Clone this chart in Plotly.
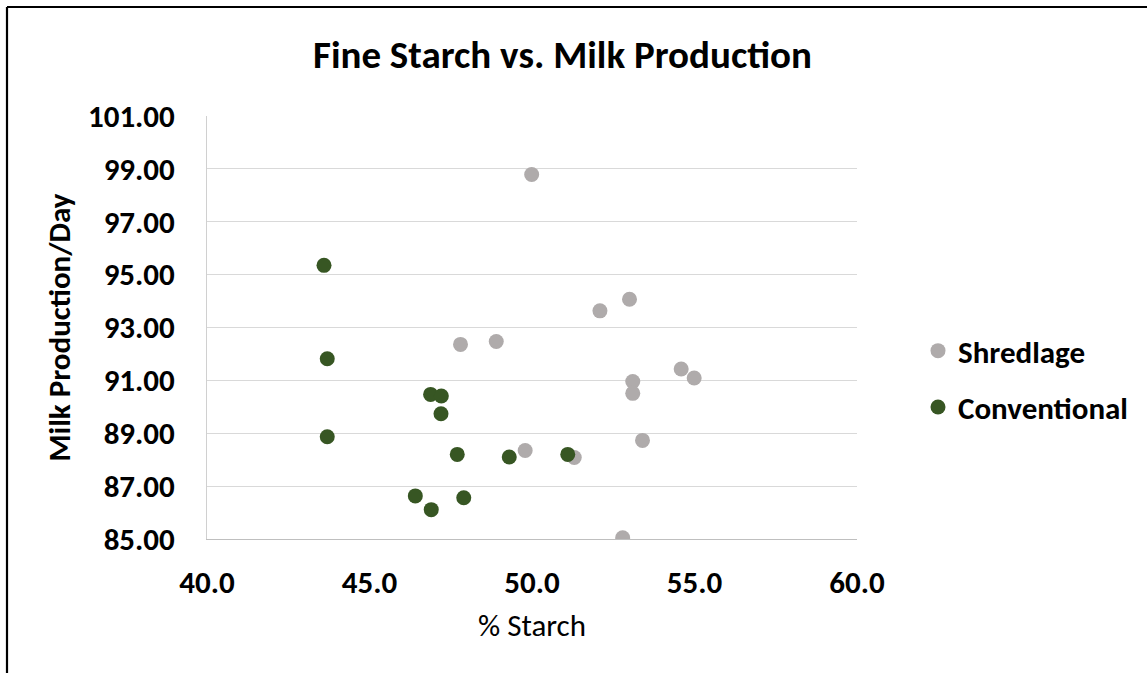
import plotly.graph_objects as go

# Shredlage group: % starch vs. milk production per day
shred_starch = [49.99, 53.00, 52.09, 47.80, 48.90, 54.59, 54.99, 53.10, 53.10, 53.40, 49.79, 51.30, 52.79]
shred_milk = [98.79, 94.07, 93.63, 92.36, 92.47, 91.43, 91.09, 90.96, 90.51, 88.73, 88.35, 88.08, 85.05]

# Conventional group
conv_starch = [43.60, 43.70, 46.88, 47.21, 47.20, 43.70, 47.70, 49.30, 51.10, 46.41, 47.90, 46.90]
conv_milk = [95.35, 91.82, 90.47, 90.41, 89.74, 88.87, 88.20, 88.10, 88.20, 86.63, 86.56, 86.11]

x_ticks = [40, 45, 50, 55, 60]
y_ticks = [85, 87, 89, 91, 93, 95, 97, 99, 101]

FONT = "Carlito, Calibri, Lato, sans-serif"
GRAY = "#AFABAB"
GREEN = "#375623"

fig = go.Figure()
fig.add_trace(go.Scatter(
    x=shred_starch, y=shred_milk, mode="markers", name="Shredlage",
    legendgroup="s",
    marker=dict(color=GRAY, size=15, line=dict(width=0)),
))
fig.add_trace(go.Scatter(
    x=conv_starch, y=conv_milk, mode="markers", name="Conventional",
    legendgroup="c",
    marker=dict(color=GREEN, size=15, line=dict(width=0)),
))

W, H = 1147, 673
L, R, T, B = 207, 290, 116, 134
pw, ph = W - L - R, H - T - B


def px(xp):
    return (xp - L) / pw


def py(yp):
    return (H - B - yp) / ph


fig.update_layout(
    width=W, height=H,
    margin=dict(l=L, r=R, t=T, b=B),
    paper_bgcolor="white", plot_bgcolor="white",
    font=dict(family=FONT, color="black"),
    showlegend=True,
    legend=dict(
        x=px(918), y=py(324), xanchor="left", yanchor="top",
        font=dict(family=FONT, size=31, color="black", weight="bold"),
        tracegroupgap=13, itemwidth=30, bgcolor="rgba(0,0,0,0)",
    ),
    xaxis=dict(
        range=[40, 60], tickvals=x_ticks, tickformat=".1f",
        showgrid=False, zeroline=False,
        showline=True, linecolor="#BFBFBF", linewidth=1,
        ticks="", ticklabelstandoff=16,
        tickfont=dict(family=FONT, size=31, weight="bold"),
        title=dict(text="% Starch", standoff=14,
                   font=dict(family=FONT, size=31)),
        fixedrange=True,
    ),
    yaxis=dict(
        range=[85, 101], tickvals=y_ticks, tickformat=".2f",
        showgrid=True, gridcolor="#D9D9D9", gridwidth=1.3,
        zeroline=False,
        showline=True, linecolor="#D0D0D0", linewidth=1,
        ticks="", ticklabelstandoff=25,
        tickfont=dict(family=FONT, size=31, weight="bold"),
        title=dict(text="Milk Production/Day", standoff=8,
                   font=dict(family=FONT, size=31, weight="bold")),
        fixedrange=True,
    ),
)

# Chart title
fig.add_annotation(
    text="<b>Fine Starch vs. Milk Production</b>",
    x=px(562), y=py(55), xref="paper", yref="paper",
    xanchor="center", yanchor="middle", showarrow=False,
    font=dict(family=FONT, size=39, color="black"),
)

# Frame lines along the top and left edges
fig.add_shape(type="line", xref="paper", yref="paper",
              x0=px(7), y0=py(7), x1=px(W + 5), y1=py(7),
              line=dict(color="black", width=2.2))
fig.add_shape(type="line", xref="paper", yref="paper",
              x0=px(7), y0=py(7), x1=px(7), y1=py(H + 5),
              line=dict(color="black", width=2.2))

fig.write_html("out.html", config={"displayModeBar": False})
